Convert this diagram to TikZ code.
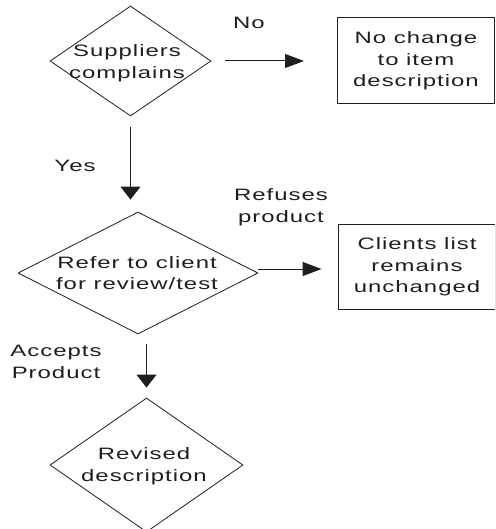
\documentclass[tikz,border=0pt]{standalone}
\usepackage{fontspec}
\setmainfont{Liberation Sans}[FakeStretch=1.45, LetterSpace=6]
\usetikzlibrary{shapes.geometric,arrows.meta}
\definecolor{ink}{HTML}{1E1E1E}
\tikzset{
  txt/.style={align=center, text=ink, inner sep=0pt, font=\fontsize{16.5}{21.5}\selectfont},
  dia/.style={draw=ink, line width=0.8pt, diamond, inner sep=0pt},
  boxn/.style={draw=ink, line width=1pt, rectangle, inner sep=0pt, minimum width=157pt},
  harrow/.style={draw=ink, line width=1pt, -{Triangle[length=19pt,width=14pt]}},
  varrow/.style={draw=ink, line width=1pt, -{Triangle[length=13pt,width=20pt]}}
}
\begin{document}
\begin{tikzpicture}[x=1pt, y=-1pt]
\useasboundingbox (0,0) rectangle (495,529);
\clip (0,0) rectangle (495,529);
% shapes
\node[dia, minimum width=161pt, minimum height=110pt] (d1) at (130.5,61) {};
\node[txt] (d1t) at (127,63) {Suppliers\\complains};
\node[boxn, minimum height=86pt] (b1) at (416,60.5) {};
\node[txt] (b1t) at (416,61) {No change\\to item\\description};

\node[dia, minimum width=240pt, minimum height=122pt] (d2) at (138,273) {};
\node[txt] (d2t) at (137,273) {Refer to client\\for review/test};
\node[boxn, minimum height=85pt] (b2) at (416.5,266.5) {};
\node[txt] (b2t) at (417,267) {Clients list\\remains\\unchanged};

\node[dia, minimum width=193pt, minimum height=134pt] (d3) at (146.5,465) {};
\node[txt] (d3t) at (144,466) {Revised\\description};

% labels
\node[txt] (lno) at (249,23) {No};
\node[txt] (lyes) at (75,166) {Yes};
\node[txt] (lref) at (281,207) {Refuses\\product};
\node[txt] (lacc) at (56,362) {Accepts\\Product};

% connectors
\draw[harrow] ([xshift=14pt]d1.east) -- ([xshift=-33pt]b1.west |- d1.east);
\draw[varrow] ([yshift=-11pt]d1.south) -- ([yshift=12pt]d1.south |- d2.north);
\draw[harrow] ([yshift=4pt]d2.east) -- ([xshift=-16pt,yshift=4pt]b2.west |- d2.east);
\draw[varrow] ([yshift=-10pt]d3.north |- d2.south) -- ([yshift=10pt]d3.north);
\end{tikzpicture}
\end{document}
